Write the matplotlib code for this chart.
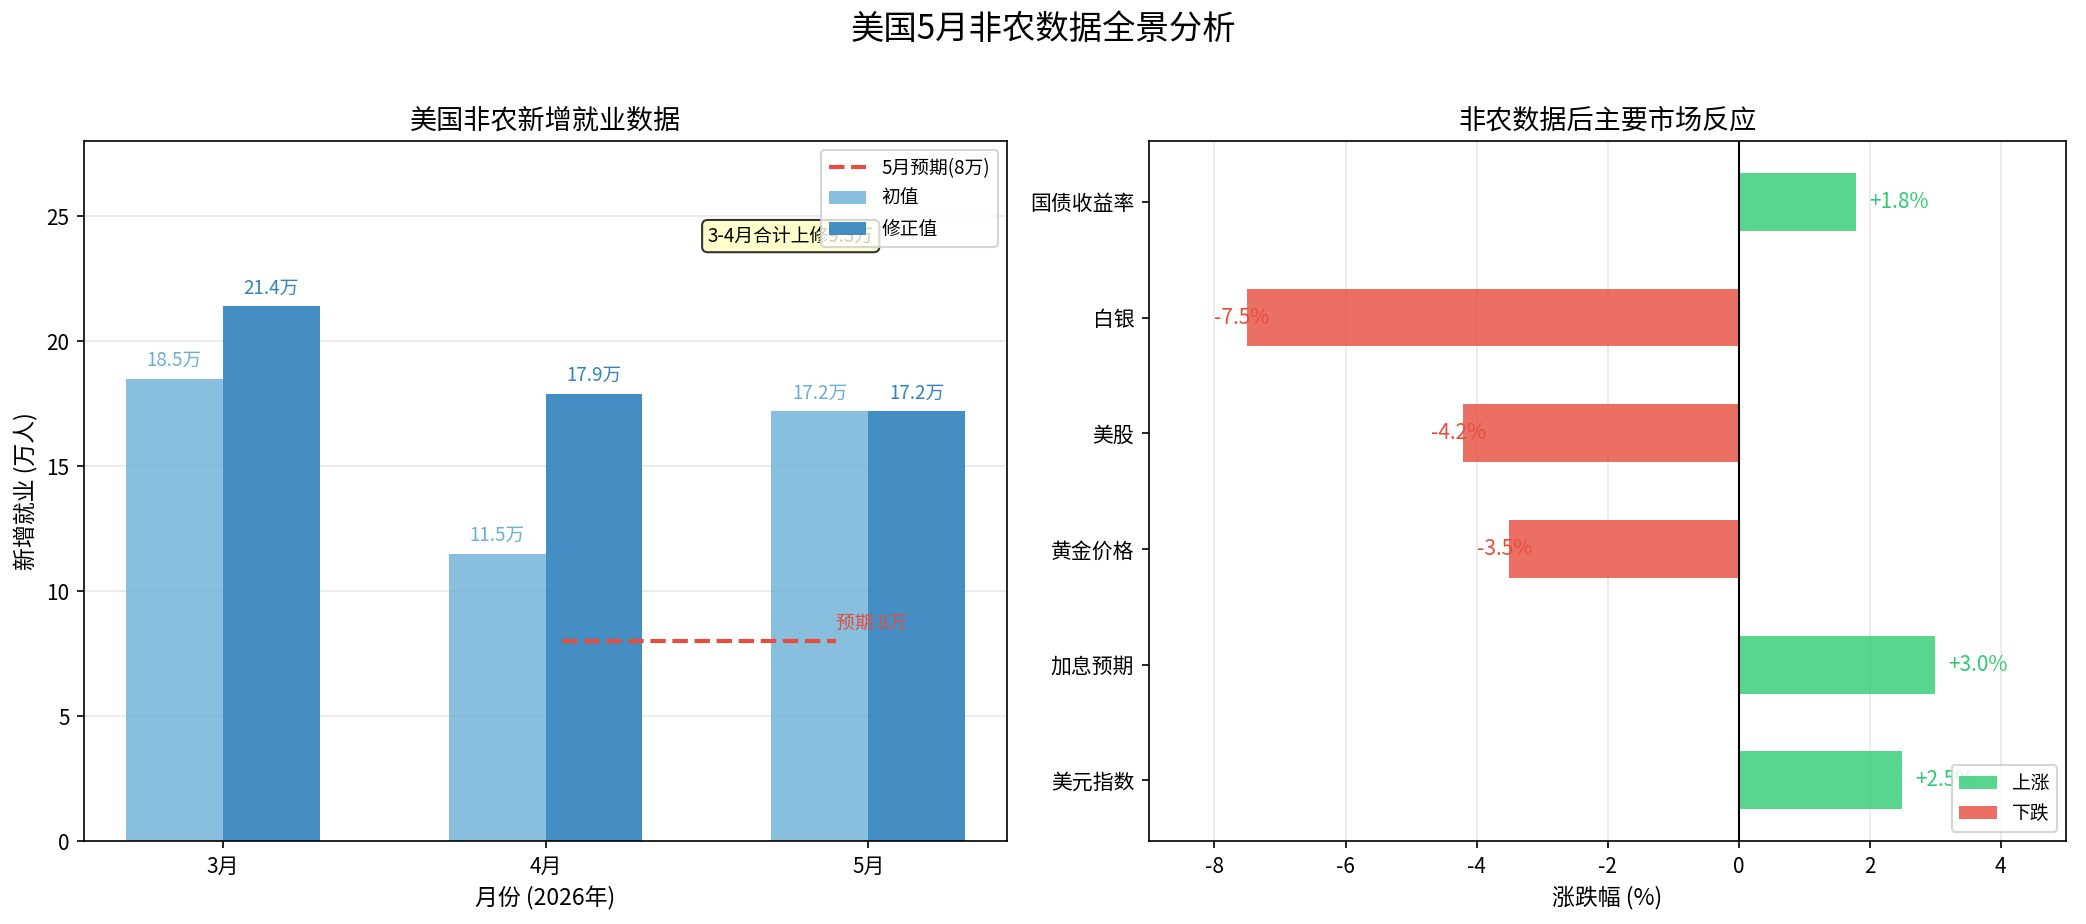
import matplotlib
matplotlib.use('Agg')
import matplotlib.pyplot as plt
import numpy as np
from matplotlib.patches import Patch

plt.rcParams['font.family'] = ['Noto Sans CJK SC', 'DejaVu Sans']
plt.rcParams['axes.unicode_minus'] = False

# Left panel data
MONTHS = ['3月', '4月', '5月']
INITIAL = [18.5, 11.5, 17.2]
REVISED = [21.4, 17.9, 17.2]
EXPECTED = 8

# Right panel data
ASSETS = ['美元指数', '加息预期', '黄金价格', '美股', '白银', '国债收益率']
CHANGES = [2.5, 3.0, -3.5, -4.2, -7.5, 1.8]

C_INIT = '#6baed6'
C_REV = '#3182bd'
C_UP = '#2ecc71'
C_DOWN = '#e74c3c'

fig = plt.figure(figsize=(13.907, 6.16), dpi=150)
ax1 = fig.add_axes([0.0403, 0.0898, 0.4424, 0.7575])
ax2 = fig.add_axes([0.5508, 0.0898, 0.4396, 0.7575])

fig.suptitle('美国5月非农数据全景分析', fontsize=16, y=0.987)

# --- left: payrolls
x = np.arange(len(MONTHS))
w = 0.3
ax1.bar(x - w / 2, INITIAL, w, color=C_INIT, alpha=0.8, label='初值')
ax1.bar(x + w / 2, REVISED, w, color=C_REV, alpha=0.9, label='修正值')
for xi, v in zip(x, INITIAL):
    ax1.text(xi - w / 2, v + 0.3, f'{v}万', ha='center', va='bottom', fontsize=9, color=C_INIT)
for xi, v in zip(x, REVISED):
    ax1.text(xi + w / 2, v + 0.3, f'{v}万', ha='center', va='bottom', fontsize=9, color=C_REV)

ax1.plot([1.05, 1.9], [EXPECTED, EXPECTED], color=C_DOWN, linestyle='--', linewidth=2, label='5月预期(8万)')
ax1.text(1.9, EXPECTED + 0.3, '预期 8万', color=C_DOWN, fontsize=9, ha='left', va='bottom')

ax1.text(1.76, 24.2, '3-4月合计上修9.3万', ha='center', va='center', fontsize=9,
         bbox=dict(boxstyle='round,pad=0.3', facecolor='#ffffcc', edgecolor='#333333'))

ax1.set_xticks(x)
ax1.set_xticklabels(MONTHS)
ax1.set_ylim(0, 28)
ax1.set_xlabel('月份 (2026年)', fontsize=11)
ax1.set_ylabel('新增就业 (万人)', fontsize=11)
ax1.set_title('美国非农新增就业数据', fontsize=13)
ax1.grid(axis='y', alpha=0.3)
ax1.set_axisbelow(True)
ax1.legend(loc='upper right', fontsize=9)

# --- right: market reaction
y = np.arange(len(ASSETS))
colors = [C_UP if v > 0 else C_DOWN for v in CHANGES]
ax2.barh(y, CHANGES, height=0.5, color=colors, alpha=0.8)
for yi, v in zip(y, CHANGES):
    if v > 0:
        ax2.text(v + 0.2, yi, f'+{v}%', ha='left', va='center', fontsize=10, color=C_UP)
    else:
        ax2.text(v - 0.5, yi, f'{v}%', ha='left', va='center', fontsize=10, color=C_DOWN)
ax2.axvline(0, color='black', linewidth=1)
ax2.set_yticks(y)
ax2.set_yticklabels(ASSETS)
ax2.set_xlim(-9, 5)
ax2.set_xlabel('涨跌幅 (%)', fontsize=11)
ax2.set_title('非农数据后主要市场反应', fontsize=13)
ax2.grid(axis='x', alpha=0.3)
ax2.set_axisbelow(True)
ax2.legend(handles=[Patch(facecolor=C_UP, edgecolor='none', alpha=0.8, label='上涨'),
                    Patch(facecolor=C_DOWN, edgecolor='none', alpha=0.8, label='下跌')],
           loc='lower right', fontsize=9)

fig.savefig('out.png', dpi=150)
